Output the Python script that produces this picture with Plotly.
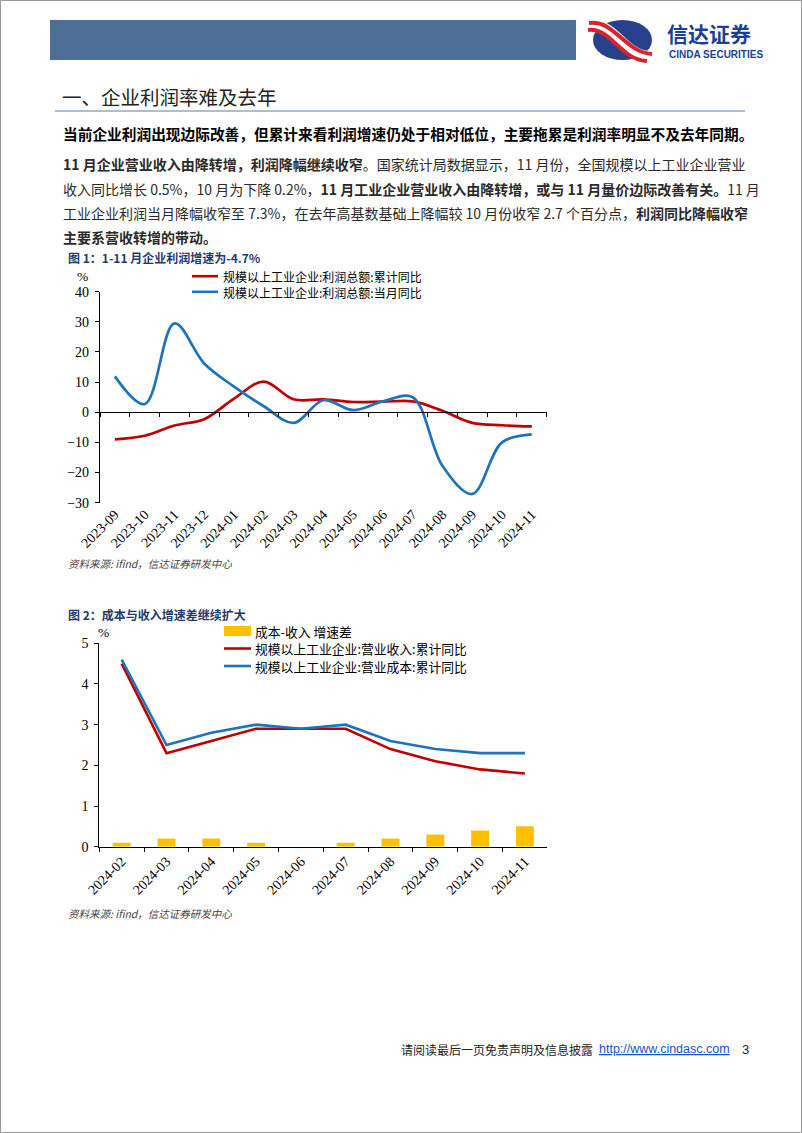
import plotly.graph_objects as go

# ---------------- data ----------------
months1 = ["2023-09", "2023-10", "2023-11", "2023-12", "2024-01", "2024-02", "2024-03",
           "2024-04", "2024-05", "2024-06", "2024-07", "2024-08", "2024-09", "2024-10", "2024-11"]
profit_cum = [-9.0, -7.8, -4.4, -2.3, 4.5, 10.2, 4.3, 4.3, 3.4, 3.5, 3.6, 0.5, -3.5, -4.3, -4.7]
profit_mon = [11.9, 2.7, 29.5, 16.2, 8.5, 2.0, -3.5, 4.0, 0.7, 3.6, 5.0, -17.8, -27.1, -10.0, -7.3]
name_cum = "规模以上工业企业:利润总额:累计同比"
name_mon = "规模以上工业企业:利润总额:当月同比"
y1_ticks = [-30, -20, -10, 0, 10, 20, 30, 40]

months2 = ["2024-02", "2024-03", "2024-04", "2024-05", "2024-06",
           "2024-07", "2024-08", "2024-09", "2024-10", "2024-11"]
rev_cum = [4.5, 2.3, 2.6, 2.9, 2.9, 2.9, 2.4, 2.1, 1.9, 1.8]
cost_cum = [4.6, 2.5, 2.8, 3.0, 2.9, 3.0, 2.6, 2.4, 2.3, 2.3]
gap = [0.1, 0.2, 0.2, 0.1, 0.0, 0.1, 0.2, 0.3, 0.4, 0.5]
name_gap = "成本-收入 增速差"
name_rev = "规模以上工业企业:营业收入:累计同比"
name_cost = "规模以上工业企业:营业成本:累计同比"
y2_ticks = [0, 1, 2, 3, 4, 5]

# ---------------- styles ----------------
W, H = 802, 1133
RED = "#C00000"
BLUE = "#1F73BA"
YEL = "#FFC000"
NAVY = "#1F3A6E"
CJK = "Noto Sans CJK SC"
SERIF = "Liberation Serif"


def X(p):
    return p / W


def Y(p):
    return 1 - p / H


fig = go.Figure()

# chart 1 traces
fig.add_trace(go.Scatter(x=months1, y=profit_cum, mode="lines", name=name_cum,
                         line=dict(color=RED, width=2.7, shape="spline", smoothing=1.0),
                         xaxis="x", yaxis="y", showlegend=False))
fig.add_trace(go.Scatter(x=months1, y=profit_mon, mode="lines", name=name_mon,
                         line=dict(color=BLUE, width=2.7, shape="spline", smoothing=1.0),
                         xaxis="x", yaxis="y", showlegend=False))
# invisible trace to carry the zero-line axis with its ticks
fig.add_trace(go.Scatter(x=months1, y=[None] * len(months1), mode="lines",
                         xaxis="x2", yaxis="y", showlegend=False, hoverinfo="skip"))

# chart 2 traces
fig.add_trace(go.Bar(x=months2, y=gap, name=name_gap, marker_color=YEL, width=0.4,
                     xaxis="x3", yaxis="y3", showlegend=False))
fig.add_trace(go.Scatter(x=months2, y=rev_cum, mode="lines", name=name_rev,
                         line=dict(color=RED, width=2.6), xaxis="x3", yaxis="y3", showlegend=False))
fig.add_trace(go.Scatter(x=months2, y=cost_cum, mode="lines", name=name_cost,
                         line=dict(color=BLUE, width=2.6), xaxis="x3", yaxis="y3", showlegend=False))

tickfont = dict(family=SERIF, size=14, color="#000")

# chart 1 geometry
c1_x = [X(100), X(546.7)]
c1_y = [Y(502.7), Y(291.7)]
# chart 2 geometry
c2_x = [X(99.3), X(547.3)]
c2_y = [Y(846.7), Y(643.3)]

common = dict(automargin=False, showgrid=False, zeroline=False, fixedrange=True)

fig.update_layout(
    template="none",
    width=W, height=H, autosize=False,
    margin=dict(l=0, r=0, t=0, b=0, pad=0, autoexpand=False),
    paper_bgcolor="white", plot_bgcolor="rgba(0,0,0,0)",
    font=dict(family=CJK, color="#000"),
    xaxis=dict(domain=c1_x, anchor="y", type="category", categoryorder="array",
               categoryarray=months1, range=[-0.5, len(months1) - 0.5],
               showline=False, ticks="", tickangle=-45, tickfont=tickfont, **common),
    xaxis2=dict(overlaying="x", anchor="free", position=Y(412), type="category",
                categoryorder="array", categoryarray=months1,
                range=[-0.5, len(months1) - 0.5], showline=True, linecolor="#000",
                linewidth=1.2, ticks="outside", tickson="boundaries", ticklen=4,
                tickcolor="#000", showticklabels=False, **common),
    yaxis=dict(domain=c1_y, anchor="x", range=[-30, 40], tickvals=y1_ticks,
               showline=True, linecolor="#000", linewidth=1.2, ticks="outside",
               ticklen=4, tickcolor="#000", tickfont=tickfont, ticklabelstandoff=3, **common),
    xaxis3=dict(domain=c2_x, anchor="y3", type="category", categoryorder="array",
                categoryarray=months2, range=[-0.5, len(months2) - 0.5],
                showline=True, linecolor="#000", linewidth=1.2, ticks="outside",
                tickson="boundaries", ticklen=4, tickcolor="#000",
                tickangle=-45, tickfont=tickfont, **common),
    yaxis3=dict(domain=c2_y, anchor="x3", range=[0, 5], tickvals=y2_ticks,
                showline=True, linecolor="#000", linewidth=1.2, ticks="outside",
                ticklen=4, tickcolor="#000", tickfont=tickfont, ticklabelstandoff=3, **common),
)

shapes = []
# page frame
shapes.append(dict(type="rect", xref="paper", yref="paper", x0=X(0.5), x1=X(801.5),
                   y0=Y(1132.5), y1=Y(0.5), line=dict(color="#9a9a9a", width=1),
                   fillcolor="rgba(0,0,0,0)", layer="below"))
# header bar
shapes.append(dict(type="rect", xref="paper", yref="paper", x0=X(50), x1=X(576),
                   y0=Y(60), y1=Y(20), line=dict(width=0), fillcolor="#4D6F97", layer="below"))
# logo ellipse
shapes.append(dict(type="circle", xref="paper", yref="paper", x0=X(593), x1=X(652),
                   y0=Y(60), y1=Y(20), line=dict(width=0), fillcolor="#27418C", layer="below"))


def path_px(pts):
    s = "M {:.5f},{:.5f}".format(X(pts[0][0]), Y(pts[0][1]))
    s += " C " + " ".join("{:.5f},{:.5f}".format(X(a), Y(b)) for a, b in pts[1:])
    return s


# white gap band and two red swooshes
shapes.append(dict(type="path", xref="paper", yref="paper",
                   path=path_px([(589, 26), (614, 22), (622, 56), (650, 57)]),
                   line=dict(color="white", width=12), layer="below"))
shapes.append(dict(type="path", xref="paper", yref="paper",
                   path=path_px([(589, 23), (614, 19), (624, 52), (652, 54)]),
                   line=dict(color="#D8242B", width=4), layer="below"))
shapes.append(dict(type="path", xref="paper", yref="paper",
                   path=path_px([(588, 30), (611, 27), (620, 60), (647, 61)]),
                   line=dict(color="#D8242B", width=4), layer="below"))
# section separator
shapes.append(dict(type="line", xref="paper", yref="paper", x0=X(55), x1=X(745),
                   y0=Y(111), y1=Y(111), line=dict(color="#8FA8C8", width=1.5)))
# legend glyphs chart 1
shapes.append(dict(type="line", xref="paper", yref="paper", x0=X(192), x1=X(218),
                   y0=Y(276.2), y1=Y(276.2), line=dict(color=RED, width=2.6)))
shapes.append(dict(type="line", xref="paper", yref="paper", x0=X(192), x1=X(218),
                   y0=Y(291.8), y1=Y(291.8), line=dict(color=BLUE, width=2.6)))
# legend glyphs chart 2
shapes.append(dict(type="rect", xref="paper", yref="paper", x0=X(224), x1=X(251),
                   y0=Y(636), y1=Y(626), line=dict(width=0), fillcolor=YEL))
shapes.append(dict(type="line", xref="paper", yref="paper", x0=X(224), x1=X(251),
                   y0=Y(648.5), y1=Y(648.5), line=dict(color=RED, width=2.6)))
shapes.append(dict(type="line", xref="paper", yref="paper", x0=X(224), x1=X(251),
                   y0=Y(666), y1=Y(666), line=dict(color=BLUE, width=2.6)))
fig.update_layout(shapes=shapes)

anns = []


def ann(text, x, y, size, color="#000", family=CJK, xanchor="left", align="left"):
    anns.append(dict(text=text, x=X(x), y=Y(y), xref="paper", yref="paper",
                     xanchor=xanchor, yanchor="middle", showarrow=False, align=align,
                     font=dict(family=family, size=size, color=color)))


# logo text
ann("<b>信达证券</b>", 665, 33, 21, "#1D3F8F")
ann("<b>CINDA SECURITIES</b>", 667, 54.5, 10, "#1D3F8F", "Liberation Sans")
# section title
ann("一、企业利润率难及去年", 60, 97, 19.5, "#222")
# body
BODY = "#2a2a2a"
ann("<b>当前企业利润出现边际改善，但累计来看利润增速仍处于相对低位，主要拖累是利润率明显不及去年同期。</b>",
    61, 133, 14.7, "#000")
ann("<b>11 月企业营业收入由降转增，利润降幅继续收窄</b>。国家统计局数据显示，11 月份，全国规模以上工业企业营业",
    61, 164, 14, BODY)
ann("收入同比增长 0.5%，10 月为下降 0.2%，<b>11 月工业企业营业收入由降转增，或与 11 月量价边际改善有关。</b>11 月",
    61, 189, 14, BODY)
ann("工业企业利润当月降幅收窄至 7.3%，在去年高基数基础上降幅较 10 月份收窄 2.7 个百分点，<b>利润同比降幅收窄</b>",
    61, 213, 14, BODY)
ann("<b>主要系营收转增的带动。</b>", 61, 237, 14, BODY)

# chart 1 title / legend / unit / source
ann("<b>图 1：1-11 月企业利润增速为-4.7%</b>", 66, 258, 12, NAVY)
ann("%", 82, 276, 13.5, "#000", SERIF, "center")
ann(name_cum + "<br>" + name_mon, 221, 284, 12, "#000")
ann("<i>资料来源: ifind，信达证券研发中心</i>", 66, 563, 10.5, "#444")

# chart 2 title / legend / unit / source
ann("<b>图 2：成本与收入增速差继续扩大</b>", 66, 614, 12, NAVY)
ann("%", 103, 632, 13.5, "#000", SERIF, "center")
ann(name_gap, 253, 631, 12.8, "#000")
ann(name_rev, 253, 648.5, 12.8, "#000")
ann(name_cost, 253, 666, 12.8, "#000")
ann("<i>资料来源: ifind，信达证券研发中心</i>", 66, 913, 10.5, "#444")

# footer
ann("请阅读最后一页免责声明及信息披露", 399, 1049, 12, "#222")
ann("<span style='color:#1155CC;text-decoration:underline'>http://www.cindasc.com</span>",
    597, 1049, 12.5, "#1155CC", "Liberation Sans")
ann("3", 740, 1049, 13, "#222", "Liberation Sans")

fig.update_layout(annotations=anns)

fig.write_html("out.html")
